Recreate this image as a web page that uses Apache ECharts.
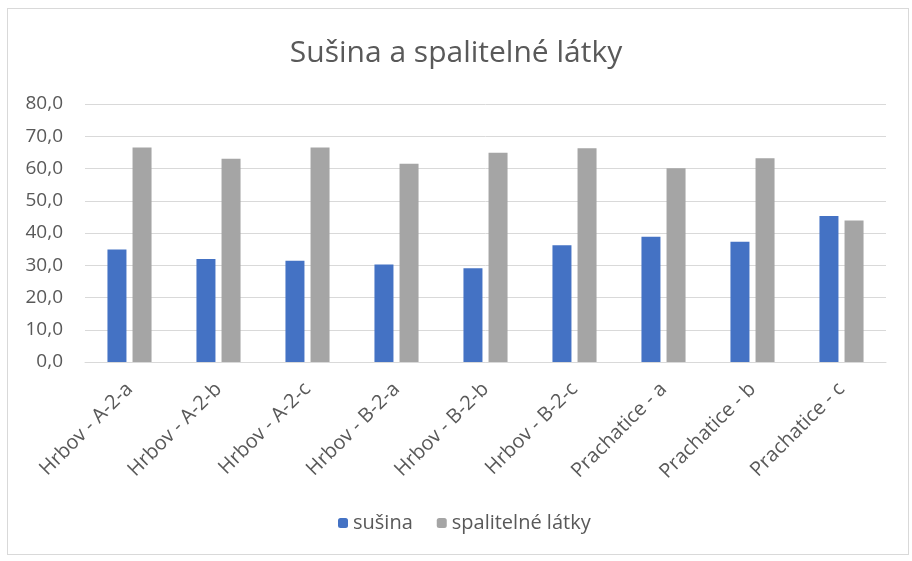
<!DOCTYPE html>
<html>
<head>
<meta charset="utf-8">
<script src="https://cdn.jsdelivr.net/npm/echarts@6/dist/echarts.min.js"></script>
<style>
  html, body { margin: 0; padding: 0; background: #fff; }
  #frame { position: absolute; left: 7px; top: 8px; width: 900px; height: 545px; border: 1px solid #d9d9d9; }
  #echart-box { position: absolute; left: 0; top: 0; width: 912px; height: 561px; }
</style>
</head>
<body>
<div id="frame"></div>
<div id="echart-box"></div>
<script>
var categories = ['Hrbov - A-2-a', 'Hrbov - A-2-b', 'Hrbov - A-2-c', 'Hrbov - B-2-a', 'Hrbov - B-2-b',
                  'Hrbov - B-2-c', 'Prachatice - a', 'Prachatice - b', 'Prachatice - c'];
var susina = [34.9, 31.9, 31.4, 30.2, 29.1, 36.2, 38.8, 37.3, 45.3];
var spalitelne = [66.5, 63.0, 66.5, 61.5, 64.9, 66.3, 60.1, 63.2, 43.9];

function init() {
    const element = document.getElementById("echart-box");
    const instance = echarts.init(element);
    var font = '"Open Sans", "Noto Sans", sans-serif';

    var option = {
      textStyle: { fontFamily: font },
      title: {
        text: 'Sušina a spalitelné látky',
        left: 'center',
        top: 33,
        textStyle: { fontSize: 30, fontWeight: 'normal', color: '#595959', fontFamily: font }
      },
      legend: {
        bottom: 23,
        left: 333,
        itemWidth: 10,
        itemHeight: 10,
        itemGap: 24,
        textStyle: { fontSize: 20, color: '#595959', fontFamily: font },
        data: ['sušina', 'spalitelné látky']
      },
      grid: { left: 85, right: 26, top: 104, bottom: 199 },
      xAxis: {
        type: 'category',
        data: categories,
        axisTick: { show: false },
        axisLine: { lineStyle: { color: '#d9d9d9' } },
        axisLabel: { rotate: 45, fontSize: 20, color: '#595959', margin: 24, interval: 0 }
      },
      yAxis: {
        type: 'value',
        min: 0,
        max: 80,
        interval: 10,
        axisLine: { show: false },
        axisTick: { show: false },
        splitLine: { lineStyle: { color: '#d9d9d9' } },
        axisLabel: {
          fontSize: 19, color: '#595959', margin: 22,
          formatter: function (v) { return v.toFixed(1).replace('.', ','); }
        }
      },
      series: [
        {
          name: 'sušina',
          type: 'bar',
          barWidth: 19,
          barGap: '32%',
          itemStyle: { color: '#4472c4' },
          data: susina
        },
        {
          name: 'spalitelné látky',
          type: 'bar',
          barWidth: 19,
          itemStyle: { color: '#a5a5a5' },
          data: spalitelne
        }
      ]
    };
    option && instance.setOption(option);

    window.onresize = function () {
        instance.resize();
    };
}
init();
</script>
</body>
</html>
